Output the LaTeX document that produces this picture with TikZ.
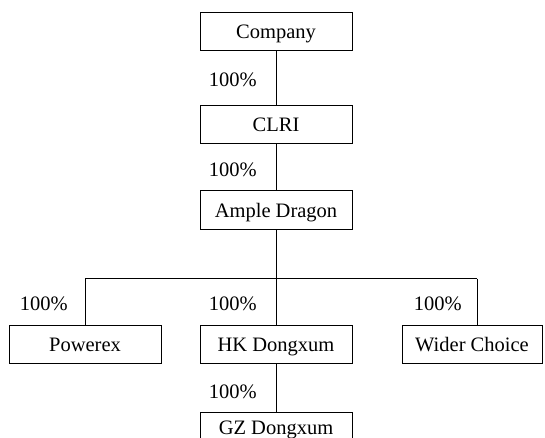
\documentclass[tikz,border=0pt]{standalone}
\usepackage{fontspec}
\setmainfont{Liberation Serif}
\begin{document}
\begin{tikzpicture}[x=1pt,y=-1pt,
  box/.style={draw, line width=1pt, minimum height=38pt, inner sep=0pt, text height=16pt, text depth=2pt, font=\fontsize{20.5}{24}\selectfont},
  pct/.style={inner sep=0pt, anchor=east, font=\fontsize{20.5}{24}\selectfont},
  link/.style={line width=1pt}]
\useasboundingbox (0,0) rectangle (545,438);
\node[box, minimum width=152pt] (company) at (276,32) {Company};
\node[box, minimum width=152pt] (clri) at (276,124.5) {CLRI};
\node[box, minimum width=152pt] (ample) at (276,210) {Ample Dragon};
\node[box, minimum width=152pt] (powerex) at (85,344) {Powerex};
\node[box, minimum width=152pt] (hk) at (276,344) {HK Dongxum};
\node[box, minimum width=140pt] (wider) at (472,344) {Wider Choice};
\node[box, minimum width=152pt, text height=13pt, text depth=8pt] (gz) at (276,431.5) {GZ Dongxum};
\coordinate (j) at (276,278.7);
\coordinate (jl) at (85,278.7);
\coordinate (jr) at (477,278.7);
\draw[link] (company) -- (clri);
\draw[link] (clri) -- (ample);
\draw[link] (ample.south) -- (j);
\draw[link] (jl) -- (jr);
\draw[link] (jl) -- (powerex.north);
\draw[link] (j) -- (hk.north);
\draw[link] (jr) -- (jr |- wider.north);
\draw[link] (hk) -- (gz);
\node[pct] (p1) at (257,80) {100\%};
\node[pct] (p2) at (257,170) {100\%};
\node[pct] (p3) at (68,303.7) {100\%};
\node[pct] (p4) at (257,303.7) {100\%};
\node[pct] (p5) at (462,303.7) {100\%};
\node[pct] (p6) at (257,391.6) {100\%};
\end{tikzpicture}
\end{document}
